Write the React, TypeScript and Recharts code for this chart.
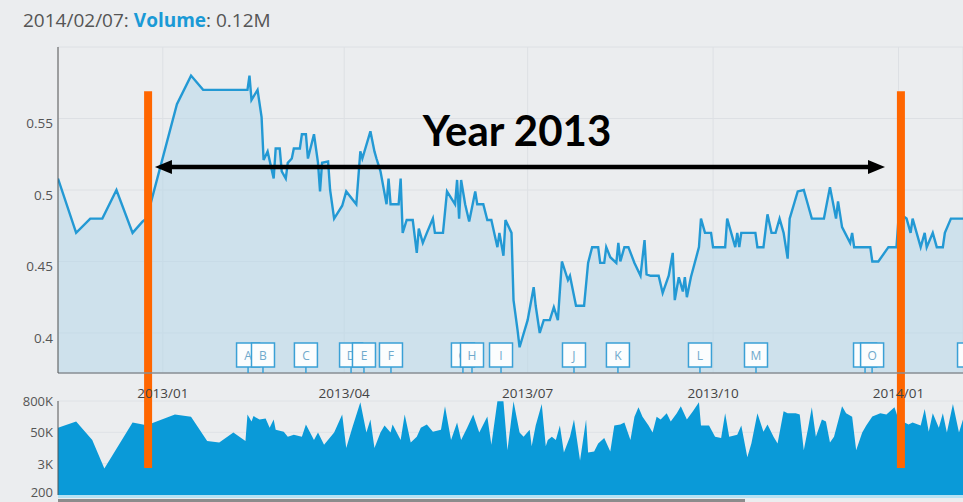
import React from 'react';
import { ComposedChart, Area, XAxis, YAxis, CartesianGrid, ReferenceLine, ReferenceDot } from 'recharts';

// x values are days counted from 2013-01-01
const priceDays = [-52,-43,-36,-30,-23,-15,-10,-8,7,14,20,42,43,44,47,49,50,52,55,56,58,59,61,62,64,65,68,69,71,72,75,77,78,79,82,83,85,89,91,96,98,99,103,105,106,108,111,112,113,117,118,119,121,124,126,127,129,131,134,135,139,141,145,146,147,148,150,152,155,156,159,161,163,166,167,169,170,173,174,176,177,181,184,185,187,189,192,194,196,198,201,202,205,209,211,213,216,217,219,220,222,225,226,227,229,231,234,237,239,240,242,246,248,251,253,254,256,258,259,260,262,266,267,269,272,273,279,280,282,284,285,286,287,294,295,298,300,302,304,306,308,310,311,315,318,320,322,328,331,334,335,337,341,342,343,351,352,355,360,364,365,367,369,371,372,376,378,379,382,384,387,388,391,397];
const priceValues = [0.508,0.47,0.48,0.48,0.5,0.47,0.478,0.48,0.56,0.58,0.57,0.57,0.58,0.563,0.57,0.551,0.521,0.527,0.508,0.529,0.529,0.513,0.508,0.519,0.522,0.529,0.529,0.539,0.539,0.522,0.539,0.519,0.499,0.519,0.52,0.5,0.48,0.489,0.499,0.49,0.527,0.522,0.541,0.527,0.522,0.513,0.49,0.508,0.49,0.49,0.508,0.47,0.479,0.479,0.456,0.473,0.463,0.47,0.48,0.47,0.47,0.499,0.49,0.507,0.48,0.507,0.49,0.478,0.499,0.49,0.49,0.479,0.479,0.46,0.47,0.454,0.479,0.47,0.423,0.402,0.39,0.409,0.432,0.419,0.4,0.409,0.409,0.418,0.409,0.45,0.437,0.44,0.419,0.419,0.449,0.46,0.46,0.449,0.449,0.46,0.453,0.449,0.463,0.45,0.46,0.46,0.449,0.44,0.465,0.441,0.44,0.44,0.428,0.44,0.456,0.423,0.439,0.429,0.439,0.425,0.439,0.46,0.48,0.47,0.47,0.46,0.46,0.48,0.47,0.46,0.47,0.46,0.47,0.47,0.46,0.46,0.483,0.47,0.47,0.48,0.47,0.452,0.48,0.499,0.5,0.49,0.48,0.48,0.502,0.48,0.492,0.474,0.463,0.47,0.46,0.46,0.45,0.45,0.46,0.46,0.48,0.482,0.48,0.47,0.48,0.46,0.47,0.46,0.47,0.46,0.46,0.47,0.48,0.48];

const volumeDays = [-52,-43,-35,-29,-15,-8,6,14,22,28,35,41,42,44,45,48,51,53,55,56,60,62,65,69,71,75,77,80,85,89,91,94,98,101,103,105,108,110,113,114,118,120,123,126,128,131,134,138,140,143,146,148,151,154,157,161,163,166,169,171,174,177,179,182,183,185,188,190,191,193,195,197,199,202,204,207,210,211,214,216,219,222,224,227,229,232,234,236,238,241,243,245,247,250,252,255,257,260,263,266,267,271,274,277,279,281,285,287,290,292,295,298,300,303,305,308,310,314,316,318,320,322,324,327,329,331,333,337,339,342,344,347,349,352,356,359,363,365,370,372,376,378,380,382,385,387,389,392,395,397];
// volume in thousands
const volumeK = [77,135,26,2.1,121,95,249,203,24,21,50,24,249,135,215,160,174,77,160,64,54,35,41,35,102,26,50,17,50,249,12.8,77,732,50,160,12.8,50,94,50,102,26,249,21,35,77,102,54,64,512,26,121,26,77,249,50,206,17,800,800,10.6,800,50,35,64,15,94,630,15,26,35,26,94,8.6,35,160,4.2,160,8.6,9.4,19,31,9.4,94,102,121,26,203,470,203,94,50,203,160,280,135,280,512,160,328,732,94,94,35,31,280,35,41,94,5.6,19,280,54,102,35,19,328,280,280,249,10.6,64,470,35,160,135,21,35,512,280,203,10.6,50,94,206,280,249,470,160,102,121,94,400,54,280,77,280,50,630,50,160];

const xTickDays = [0, 90, 181, 273, 365];
const xTickLabels = ['2013/01', '2013/04', '2013/07', '2013/10', '2014/01'];
const priceTicks = [0.4, 0.45, 0.5, 0.55];
const priceTickLabels = ['0.4', '0.45', '0.5', '0.55'];
const volumeTicks = [200, 3200, 51200, 819200];
const volumeTickLabels = ['200', '3K', '50K', '800K'];

const flagLetters = ['A','B','C','D','E','F','G','H','I','J','K','L','M','N','O','P'];
const flagDays = [42.3,49.7,71,93.4,99.8,113.2,148.9,153.4,167.8,204,225.8,266.5,294.3,348.4,351.9,400];

const markerDays = [-7.3, 366.2];
const markerTop = 0.569;
const markerBottom = 0.3056;
const spanStart = -3.9;
const spanEnd = 358.3;
const spanLevel = 0.5161;
const spanLabel = 'Year 2013';

const priceData = priceDays.map((d, i) => ({ day: d, price: priceValues[i] }));
const volumeData = volumeDays.map((d, i) => ({ day: d, volume: volumeK[i] * 1000 }));

const FONT = '"Open Sans", "DejaVu Sans", sans-serif';
const BG = '#ebedef';

const XTick = (props: any) => {
  const { x, y, payload } = props;
  const idx = xTickDays.indexOf(payload.value);
  return (
    <text x={x} y={y} dy={12} textAnchor="middle" fill="#444" fontSize={13.5} fontFamily={FONT}>
      {xTickLabels[idx]}
    </text>
  );
};

const PriceTick = (props: any) => {
  const { x, y, payload } = props;
  const idx = priceTicks.indexOf(payload.value);
  return (
    <text x={x} y={y} dy={10} textAnchor="end" fill="#555" fontSize={13.5} fontFamily={FONT}>
      {priceTickLabels[idx]}
    </text>
  );
};

const VolumeTick = (props: any) => {
  const { x, y, payload } = props;
  const idx = volumeTicks.indexOf(payload.value);
  return (
    <text x={x} y={y} dy={idx === 0 ? 2 : 5} textAnchor="end" fill="#555" fontSize={13} fontFamily={FONT}>
      {volumeTickLabels[idx]}
    </text>
  );
};

const makeFlag = (letter: string) => (props: any) => {
  const { cx, cy } = props;
  return (
    <g>
      <line x1={cx} y1={cy} x2={cx} y2={cy - 6} stroke="#3aa0d6" strokeWidth={1.5} />
      <rect x={cx - 11.5} y={cy - 30} width={23} height={24} fill="#fbfdfe" stroke="#3aa0d6" strokeWidth={1.5} />
      <text x={cx} y={cy - 13.5} textAnchor="middle" fontSize={12} fill="#6fa9cc" fontFamily={FONT}>
        {letter}
      </text>
    </g>
  );
};

const ArrowShape = (props: any) => {
  const { x1, y1, x2 } = props;
  const y = y1;
  const head = 17;
  const hw = 7;
  return (
    <g>
      <line x1={x1 + head - 2} y1={y} x2={x2 - head + 2} y2={y} stroke="#000" strokeWidth={4.5} />
      <polygon points={`${x1},${y} ${x1 + head},${y - hw} ${x1 + head},${y + hw}`} fill="#000" />
      <polygon points={`${x2},${y} ${x2 - head},${y - hw} ${x2 - head},${y + hw}`} fill="#000" />
      <text
        x={(x1 + x2) / 2 - 3}
        y={y - 21}
        textAnchor="middle"
        fontSize={42}
        fontWeight={700}
        fill="#000"
        fontFamily='Lato, "Open Sans", sans-serif'
      >
        {spanLabel}
      </text>
    </g>
  );
};

export default function App() {
  return (
    <div style={{ position: 'absolute', left: 0, top: 0, width: 963, height: 502, background: BG, overflow: 'hidden' }}>
      <div
        style={{
          position: 'absolute',
          left: 23,
          top: 9,
          fontFamily: FONT,
          fontSize: 19,
          lineHeight: '22px',
          color: '#555',
          whiteSpace: 'nowrap',
        }}
      >
        2014/02/07: <span style={{ color: '#1a9ad6', fontWeight: 700 }}>Volume</span>: 0.12M
      </div>

      <div style={{ position: 'absolute', left: 0, top: 0 }}>
        <ComposedChart width={963} height={502} data={volumeData} margin={{ top: 401, right: 0, bottom: 7, left: 0 }}>
          <CartesianGrid horizontal vertical={false} stroke="#dfe2e6" />
          <XAxis type="number" dataKey="day" domain={[-52, 397]} allowDataOverflow hide />
          <YAxis
            scale="log"
            domain={[200, 819200]}
            allowDataOverflow
            ticks={volumeTicks}
            interval={0}
            width={58}
            axisLine={{ stroke: '#555', strokeWidth: 1 }}
            tickLine={false}
            tickSize={4}
            tickMargin={1}
            tick={<VolumeTick />}
          />
          <Area
            dataKey="volume"
            type="linear"
            stroke="none"
            fill="#0a9ad8"
            fillOpacity={1}
            baseValue={200}
            isAnimationActive={false}
            dot={false}
            activeDot={false}
          />
        </ComposedChart>
      </div>

      <div style={{ position: 'absolute', left: 58, top: 495, width: 905, height: 3, background: '#b6e2f3' }} />
      <div style={{ position: 'absolute', left: 58, top: 498.5, width: 687, height: 3.5, background: '#8c8c8c' }} />

      <div style={{ position: 'absolute', left: 0, top: 0 }}>
        <ComposedChart width={963} height={502} data={priceData} margin={{ top: 47, right: 0, bottom: 99, left: 0 }}>
          <CartesianGrid stroke="#dde0e4" />
          <XAxis
            type="number"
            dataKey="day"
            domain={[-52, 397]}
            allowDataOverflow
            ticks={xTickDays}
            interval={0}
            height={30}
            axisLine={{ stroke: '#8a8f94', strokeWidth: 1.5 }}
            tickLine={false}
            tickSize={6}
            tickMargin={7}
            tick={<XTick />}
          />
          <YAxis
            type="number"
            domain={[0.372, 0.6]}
            allowDataOverflow
            ticks={priceTicks}
            interval={0}
            width={58}
            axisLine={{ stroke: '#555', strokeWidth: 1 }}
            tickLine={false}
            tickSize={4}
            tickMargin={1}
            tick={<PriceTick />}
          />
          <Area
            dataKey="price"
            type="linear"
            stroke="#2399d4"
            strokeWidth={2.4}
            fill="#b6d7ea"
            fillOpacity={0.55}
            isAnimationActive={false}
            dot={false}
            activeDot={false}
          />
          {flagDays.map((d, i) => (
            <ReferenceDot
              key={flagLetters[i]}
              x={d}
              y={0.372}
              ifOverflow="visible"
              shape={makeFlag(flagLetters[i])}
            />
          ))}
          {markerDays.map((d) => (
            <ReferenceLine
              key={d}
              segment={[{ x: d, y: markerTop }, { x: d, y: markerBottom }]}
              ifOverflow="visible"
              stroke="#ff6600"
              strokeWidth={8}
            />
          ))}
          <ReferenceLine
            segment={[{ x: spanStart, y: spanLevel }, { x: spanEnd, y: spanLevel }]}
            ifOverflow="visible"
            shape={ArrowShape}
          />
        </ComposedChart>
      </div>
    </div>
  );
}
